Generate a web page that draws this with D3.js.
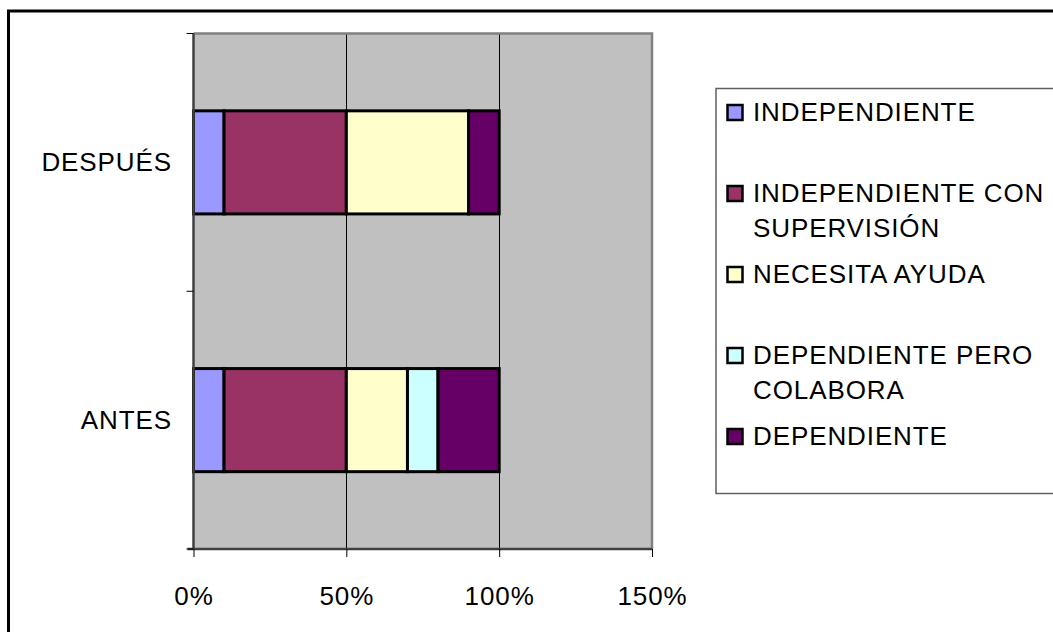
<!DOCTYPE html>
<html>
<head>
<meta charset="utf-8">
<script src="https://cdn.jsdelivr.net/npm/d3@7"></script>
<style>
  html, body { margin: 0; padding: 0; background: #fff; }
  svg { display: block; font-family: "Liberation Sans", Arial, sans-serif; }
</style>
</head>
<body>
<svg id="chart" width="1053" height="632"></svg>
<script>
// Categories (top to bottom) and stacked series, in percent
const categories = ["DESPUÉS", "ANTES"];
const seriesNames = [
  "INDEPENDIENTE",
  "INDEPENDIENTE CON SUPERVISIÓN",
  "NECESITA AYUDA",
  "DEPENDIENTE PERO COLABORA",
  "DEPENDIENTE"
];
const antesValues   = [10, 40, 20, 10, 20];
const despuesValues = [10, 40, 40, 0, 10];
const seriesColors = ["#9999FF", "#993366", "#FFFFCC", "#CCFFFF", "#660066"];
const xTicks = [0, 0.5, 1, 1.5];
// legend labels split into display lines
const legendLines = [
  ["INDEPENDIENTE"],
  ["INDEPENDIENTE CON", "SUPERVISIÓN"],
  ["NECESITA AYUDA"],
  ["DEPENDIENTE PERO", "COLABORA"],
  ["DEPENDIENTE"]
];

const valuesByCategory = { "ANTES": antesValues, "DESPUÉS": despuesValues };

const svg = d3.select("#chart");
const fontSize = 26;
const letterSpacing = 0.9;

// outer chart frame
svg.append("rect")
  .attr("x", 8.5).attr("y", 11)
  .attr("width", 1200).attr("height", 800)
  .attr("fill", "#fff").attr("stroke", "#000").attr("stroke-width", 3);

const plot = { left: 193.5, right: 652, top: 33.5, bottom: 549 };

const x = d3.scaleLinear().domain([0, 1.5]).range([plot.left, plot.right]);
const y = d3.scaleBand().domain(categories)
  .range([plot.top, plot.bottom])
  .paddingInner(0.6).paddingOuter(0.3);

// plot background
svg.append("rect")
  .attr("x", plot.left).attr("y", plot.top)
  .attr("width", plot.right - plot.left).attr("height", plot.bottom - plot.top)
  .attr("fill", "#C0C0C0");

// vertical gridlines
svg.append("g").selectAll("line")
  .data(xTicks.filter(t => t > 0 && t < 1.5))
  .join("line")
  .attr("x1", d => Math.round(x(d)) + 0.5).attr("x2", d => Math.round(x(d)) + 0.5)
  .attr("y1", plot.top).attr("y2", plot.bottom)
  .attr("stroke", "#000").attr("stroke-width", 1);

// plot border (top and right)
svg.append("path")
  .attr("d", `M${plot.left},${plot.top} H${plot.right} V${plot.bottom}`)
  .attr("fill", "none").attr("stroke", "#808080").attr("stroke-width", 2.5);

// stacked bars
const stackData = categories.map(c => {
  const row = { category: c };
  seriesNames.forEach((s, i) => row[s] = valuesByCategory[c][i] / 100);
  return row;
});
const stacked = d3.stack().keys(seriesNames)(stackData);

svg.append("g").selectAll("g")
  .data(stacked)
  .join("g")
  .attr("fill", (d, i) => seriesColors[i])
  .selectAll("rect")
  .data(d => d.filter(p => p[1] - p[0] > 0))
  .join("rect")
  .attr("x", d => x(d[0]))
  .attr("width", d => x(d[1]) - x(d[0]))
  .attr("y", d => y(d.data.category))
  .attr("height", y.bandwidth())
  .attr("stroke", "#000").attr("stroke-width", 3);

// x axis
const xAxis = d3.axisBottom(x)
  .tickValues(xTicks)
  .tickFormat(d3.format(".0%"))
  .tickSizeInner(8).tickSizeOuter(0).tickPadding(0);
const gx = svg.append("g").attr("transform", `translate(0,${plot.bottom})`).call(xAxis);
gx.select(".domain").attr("stroke", "#404040").attr("stroke-width", 2.5)
  .attr("d", `M${plot.left - 6},0 H${plot.right}`);
gx.selectAll(".tick line").attr("stroke", "#000");
gx.selectAll(".tick text")
  .attr("y", 56).attr("dy", null)
  .attr("font-size", fontSize).attr("font-family", "Liberation Sans, Arial, sans-serif")
  .attr("letter-spacing", letterSpacing)
  .attr("fill", "#000");

// y axis line and category boundary ticks
svg.append("line")
  .attr("x1", plot.left).attr("x2", plot.left)
  .attr("y1", plot.top).attr("y2", plot.bottom)
  .attr("stroke", "#404040").attr("stroke-width", 2.5);
const boundaries = [plot.top, plot.top + y.step(), plot.bottom];
svg.append("g").selectAll("line")
  .data(boundaries)
  .join("line")
  .attr("x1", plot.left - 7).attr("x2", plot.left)
  .attr("y1", d => d).attr("y2", d => d)
  .attr("stroke", "#000").attr("stroke-width", 1);

// category labels
svg.append("g").selectAll("text")
  .data(categories)
  .join("text")
  .attr("x", 172)
  .attr("y", d => y(d) + y.bandwidth() / 2 + 9)
  .attr("text-anchor", "end")
  .attr("font-size", fontSize)
  .attr("letter-spacing", letterSpacing)
  .text(d => d);

// legend
const legend = svg.append("g");
legend.append("rect")
  .attr("x", 716).attr("y", 88.5)
  .attr("width", 400).attr("height", 405)
  .attr("fill", "#fff").attr("stroke", "#606060").attr("stroke-width", 1.5);

const legendRowBaseline = [121, 202, 283, 364, 445];
const legendItems = legend.selectAll("g.item")
  .data(seriesNames)
  .join("g").attr("class", "item");
legendItems.append("rect")
  .attr("x", 727.5)
  .attr("y", (d, i) => legendRowBaseline[i] - 16)
  .attr("width", 15).attr("height", 15)
  .attr("fill", (d, i) => seriesColors[i])
  .attr("stroke", "#000").attr("stroke-width", 2.5);
legendItems.each(function(d, i) {
  d3.select(this).selectAll("text")
    .data(legendLines[i])
    .join("text")
    .attr("x", 753)
    .attr("y", (t, j) => legendRowBaseline[i] + j * 35)
    .attr("font-size", fontSize)
    .attr("letter-spacing", letterSpacing)
    .text(t => t);
});
</script>
</body>
</html>
